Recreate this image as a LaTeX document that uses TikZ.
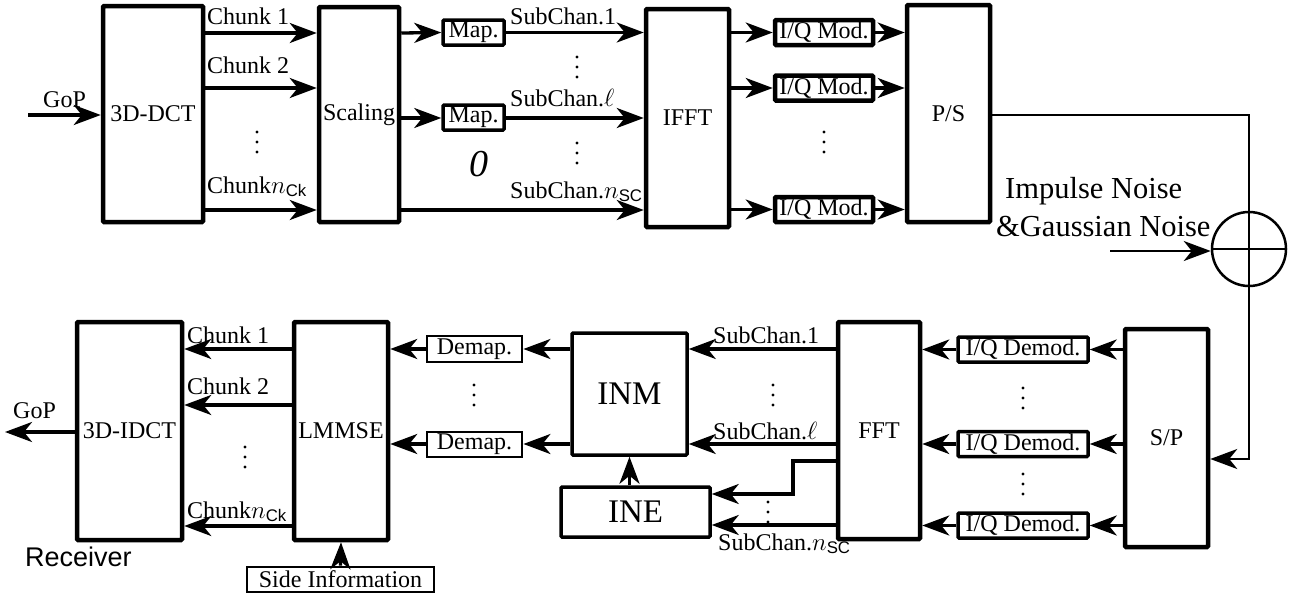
\documentclass[tikz,border=0pt]{standalone}
\usepackage{amsmath}
\usepackage{fontspec}
\setmainfont{Liberation Serif}
\setsansfont{Liberation Sans}
\usetikzlibrary{arrows.meta}
\tikzset{
  tipb/.tip={Stealth[length=27pt,width=20pt,inset=8pt]},
}
\begin{document}
\begin{tikzpicture}[x=1pt,y=-1pt,
  every node/.style={font=\fontsize{24}{28}\selectfont},
  blk/.style={draw, line width=4.5pt, inner sep=0pt, rounded corners=1pt},
  mblk/.style={draw, line width=3.5pt, inner sep=0pt, rounded corners=1pt},
  sblk/.style={draw, line width=2.8pt, inner sep=0pt},
  lbl/.style={inner sep=0pt, anchor=base west},
  arr/.style={line width=3.3pt, -tipb},
  ln/.style={line width=2.5pt},
]
\useasboundingbox (0,0) rectangle (1301,597);

% ---------- transmitter ----------
\node[blk, minimum width=100pt, minimum height=216pt] (dct) at (153,114) {3D-DCT};
\node[blk, minimum width=80pt, minimum height=215pt] (scal) at (359,114.5) {Scaling};
\node[mblk, minimum width=61pt, minimum height=25pt] (map1) at (473.5,32.5) {Map.};
\node[mblk, minimum width=61pt, minimum height=25pt] (map2) at (473.5,117.5) {Map.};
\node[blk, minimum width=83pt, minimum height=218pt] (ifft) at (687.5,118) {IFFT};
\node[blk, minimum width=98pt, minimum height=25pt] (iq1) at (824,32.5) {I/Q Mod.};
\node[blk, minimum width=98pt, minimum height=25pt] (iq2) at (824,88) {I/Q Mod.};
\node[blk, minimum width=98pt, minimum height=25pt] (iq3) at (824,209.5) {I/Q Mod.};
\node[blk, minimum width=83pt, minimum height=217pt] (ps) at (948.5,113.5) {P/S};
\node[circle, draw, line width=2.5pt, minimum size=74pt, inner sep=0pt] (sum) at (1249,249) {};

\coordinate (r1) at (0,33);
\coordinate (r2) at (0,88);
\coordinate (r3) at (0,210);
\coordinate (rl) at (0,118);
\coordinate (gin) at (28,115);
\coordinate (psy) at (0,115);
\coordinate (nin) at (1110,251);
\coordinate (spy) at (0,459);

\draw[arr] (gin) -- (dct.west |- gin);
\node[lbl] (gop1) at (43,107) {GoP};
\draw[arr] (dct.east |- r1) -- (scal.west |- r1);
\draw[arr] (dct.east |- r2) -- (scal.west |- r2);
\draw[arr] (dct.east |- r3) -- (scal.west |- r3);
\node[lbl] (c1) at (207,24) {Chunk 1};
\node[lbl] (c2) at (207,73) {Chunk 2};
\node[lbl] (cn) at (207,193) {Chunk$n_{\text{\sffamily Ck}}$};

\draw[arr] (scal.east |- r1) -- (map1.west);
\draw[arr] (scal.east |- rl) -- (map2.west |- rl);
\draw[arr] (map1.east) -- (ifft.west |- map1.east);
\draw[arr] (map2.east |- rl) -- (ifft.west |- rl);
\draw[arr] (scal.east |- r3) -- (ifft.west |- r3);
\node[lbl] (s1) at (510,24) {SubChan.1};
\node[lbl] (sl) at (510,106) {SubChan.$\ell$};
\node[lbl] (sn) at (510,198) {SubChan.$n_{\text{\sffamily SC}}$};
\node[font=\fontsize{38}{42}\selectfont\itshape, inner sep=0pt] (zero) at (479,164) {0};

\draw[arr] (ifft.east |- iq1) -- (iq1.west);
\draw[arr] (ifft.east |- iq2) -- (iq2.west);
\draw[arr] (ifft.east |- iq3) -- (iq3.west);
\draw[arr] (iq1.east) -- (ps.west |- iq1.east);
\draw[arr] (iq2.east) -- (ps.west |- iq2.east);
\draw[arr] (iq3.east) -- (ps.west |- iq3.east);

% dots (top)
\foreach \x/\y in {257/132, 577/57, 577/143, 824/132}{
  \foreach \d in {0,10,20} \fill (\x,\y+\d) circle (1.7pt);
}

% channel
\draw[ln] (ps.east |- psy) -- (sum.north |- psy) -- (sum.south);
\draw[ln] (sum.west) -- (sum.east);
\draw[line width=2.2pt, -tipb] (nin) -- (sum.west |- nin);
\node[lbl, font=\fontsize{30.5}{34}\selectfont] (imp) at (1005,198) {Impulse Noise};
\node[lbl, font=\fontsize{30.5}{34}\selectfont] (gau) at (996,236) {\&Gaussian Noise};

% ---------- receiver ----------
\node[blk, minimum width=83pt, minimum height=218pt] (sp) at (1166.5,438) {S/P};
\draw[ln, -tipb] (sum.south) -- (sum.south |- spy) -- (sp.east |- spy);

\node[mblk, minimum width=130pt, minimum height=25pt] (dm1) at (1023,349.5) {I/Q Demod.};
\node[mblk, minimum width=130pt, minimum height=25pt] (dm2) at (1023,444) {I/Q Demod.};
\node[mblk, minimum width=130pt, minimum height=25pt] (dm3) at (1023,525.5) {I/Q Demod.};
\node[blk, minimum width=82pt, minimum height=217pt] (fft) at (879,430.5) {FFT};
\node[mblk, minimum width=115pt, minimum height=122pt, font=\fontsize{33}{36}\selectfont] (inm) at (629.5,394) {INM};
\node[mblk, minimum width=149pt, minimum height=50pt, font=\fontsize{33}{36}\selectfont] (ine) at (635.5,512) {INE};
\node[sblk, minimum width=95pt, minimum height=26pt] (de1) at (474.5,349) {Demap.};
\node[sblk, minimum width=95pt, minimum height=25pt] (de2) at (474.5,444.5) {Demap.};
\node[blk, minimum width=94pt, minimum height=218pt] (lmmse) at (341,431) {LMMSE};
\node[blk, minimum width=105pt, minimum height=218pt] (idct) at (129.5,431) {3D-IDCT};
\node[sblk, minimum width=187pt, minimum height=25pt] (side) at (340.5,579.5) {Side Information};

\coordinate (b1) at (0,349);
\coordinate (b2) at (0,444);
\coordinate (b3) at (0,525);
\coordinate (bc2) at (0,405);
\coordinate (bc3) at (0,526);
\coordinate (elb) at (793,461);
\coordinate (ey) at (0,494);
\coordinate (gout) at (5,432);

\draw[arr] (sp.west |- dm1) -- (dm1.east);
\draw[arr] (sp.west |- dm2) -- (dm2.east);
\draw[arr] (sp.west |- dm3) -- (dm3.east);
\draw[arr] (dm1.west) -- (fft.east |- dm1.west);
\draw[arr] (dm2.west) -- (fft.east |- dm2.west);
\draw[arr] (dm3.west) -- (fft.east |- dm3.west);

\draw[arr] (fft.west |- b1) -- (inm.east |- b1);
\draw[arr] (fft.west |- b2) -- (inm.east |- b2);
\draw[arr] (fft.west |- elb) -- (elb) -- (elb |- ey) -- (ine.east |- ey);
\draw[arr] (fft.west |- b3) -- (ine.east |- b3);
\node[lbl] (bs1) at (713,343) {SubChan.1};
\node[lbl] (bsl) at (713,439) {SubChan.$\ell$};
\node[lbl] (bsn) at (718,550) {SubChan.$n_{\text{\sffamily SC}}$};
\draw[arr] (ine.north -| inm.south) -- (inm.south);

\draw[arr] (inm.west |- b1) -- (de1.east |- b1);
\draw[arr] (inm.west |- b2) -- (de2.east |- b2);
\draw[arr] (de1.west |- b1) -- (lmmse.east |- b1);
\draw[arr] (de2.west |- b2) -- (lmmse.east |- b2);

\draw[arr] (lmmse.west |- b1) -- (idct.east |- b1);
\draw[arr] (lmmse.west |- bc2) -- (idct.east |- bc2);
\draw[arr] (lmmse.west |- bc3) -- (idct.east |- bc3);
\node[lbl] (bc1l) at (187,343) {Chunk 1};
\node[lbl] (bc2l) at (187,394) {Chunk 2};
\node[lbl] (bcnl) at (187,518) {Chunk$n_{\text{\sffamily Ck}}$};

\draw[arr] (idct.west |- gout) -- (gout);
\node[lbl] (gop2) at (13,418) {GoP};
\draw[arr] (side.north) -- (lmmse.south);
\node[lbl, font=\fontsize{27}{30}\sffamily] (rec) at (25,566) {Receiver};

% dots (bottom)
\foreach \x/\y in {245/447, 474/385, 773/385, 768/502, 1023/388, 1023/474}{
  \foreach \d in {0,10,20} \fill (\x,\y+\d) circle (1.7pt);
}
\end{tikzpicture}
\end{document}
